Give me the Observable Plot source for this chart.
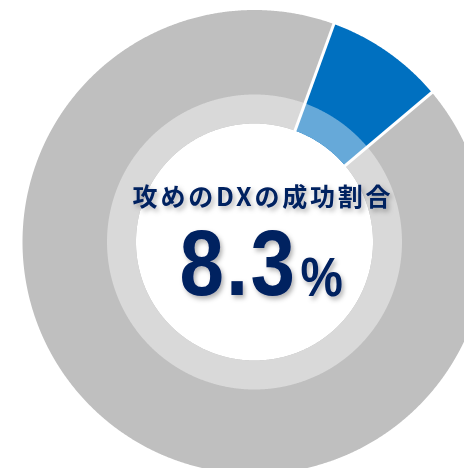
<!DOCTYPE html>
<html><head><meta charset="utf-8">
<script src="https://cdn.jsdelivr.net/npm/d3@7"></script>
<script src="https://cdn.jsdelivr.net/npm/@observablehq/plot@0.6"></script>
<style>html,body{margin:0;padding:0;background:#fff;overflow:hidden}</style>
</head><body><div id="chart"></div>
<script>
// ---- data ----
const categories = ["成功", "その他"];
const shares = [8.3, 91.7];
const outerColors = ["#0070C0", "#BFBFBF"];
const innerColors = ["#66A9D9", "#D9D9D9"];
const titleText = "攻めのDXの成功割合";
const valueText = "8.3";
const unitText = "%";

// ---- layout ----
const W = 464, H = 468, CX = 254, CY = 241.5, R = 232;
const rMid = 147.5 / R, rIn = 118.5 / R;
const startDeg = 20;
const px = (p) => (p - CX) / R;       // pixel x -> data x
const py = (p) => (CY - p) / R;       // pixel y -> data y

const total = d3.sum(shares);
const slices = [];
let acc = startDeg;
categories.forEach((c, i) => {
  const a0 = acc, a1 = acc + shares[i] / total * 360;
  slices.push({c, i, a0, a1});
  acc = a1;
});

function arcPoly(key, a0, a1, r0, r1) {
  const pts = [];
  const n = Math.max(2, Math.ceil((a1 - a0) / 0.25));
  for (let k = 0; k <= n; k++) {
    const a = (a0 + (a1 - a0) * k / n) * Math.PI / 180;
    pts.push({key, x: r1 * Math.sin(a), y: r1 * Math.cos(a)});
  }
  for (let k = n; k >= 0; k--) {
    const a = (a0 + (a1 - a0) * k / n) * Math.PI / 180;
    pts.push({key, x: r0 * Math.sin(a), y: r0 * Math.cos(a)});
  }
  return pts;
}

const outerPts = slices.flatMap(s => arcPoly("outer-" + s.c, s.a0, s.a1, rIn, 1));
const innerPts = slices.flatMap(s => arcPoly("inner-" + s.c, s.a0, s.a1, rIn, rMid));
const seps = slices.map(s => {
  const a = s.a0 * Math.PI / 180;
  return {x1: (rIn - 0.01) * Math.sin(a), y1: (rIn - 0.01) * Math.cos(a),
          x2: 1.01 * Math.sin(a), y2: 1.01 * Math.cos(a)};
});

const colorDomain = [...categories.map(c => "outer-" + c), ...categories.map(c => "inner-" + c)];
const colorRange = [...outerColors, ...innerColors];
const navy = "#002060";

const chart = Plot.plot({
  width: W, height: H, margin: 0,
  x: {domain: [px(0), px(W)], axis: null},
  y: {domain: [py(H), py(0)], axis: null},
  color: {domain: colorDomain, range: colorRange},
  marks: [
    Plot.line(outerPts, {x: "x", y: "y", z: "key", fill: "key", stroke: "none"}),
    Plot.line(innerPts, {x: "x", y: "y", z: "key", fill: "key", stroke: "none"}),
    Plot.link(seps, {x1: "x1", y1: "y1", x2: "x2", y2: "y2", stroke: "#fff", strokeWidth: 3}),
    Plot.text([titleText], {x: px(262.5), y: py(197), text: d => d, textAnchor: "middle", lineAnchor: "middle",
      fontSize: 25, fontWeight: "bold", fill: navy, fontFamily: "'Noto Sans CJK JP', sans-serif"}),
    Plot.text([valueText], {x: px(179), y: py(294), text: d => d, textAnchor: "start", lineAnchor: "bottom",
      fontSize: 93, fontWeight: "bold", fill: navy, fontFamily: "'Liberation Sans', Arial, sans-serif"}),
    Plot.text([unitText], {x: px(300), y: py(295), text: d => d, textAnchor: "start", lineAnchor: "bottom",
      fontSize: 56, fontWeight: "bold", fill: navy, fontFamily: "'Liberation Sans', Arial, sans-serif"})
  ]
});

document.getElementById("chart").appendChild(chart);

// post-process: shadows, letter spacing, condensed digits
const svg = d3.select(chart);
const defs = svg.insert("defs", ":first-child");
const f = defs.append("filter").attr("id", "tshadow").attr("x", "-20%").attr("y", "-20%").attr("width", "150%").attr("height", "150%");
f.append("feDropShadow").attr("dx", 2.5).attr("dy", 3).attr("stdDeviation", 2.5).attr("flood-color", "#000").attr("flood-opacity", 0.3);

svg.selectAll("text").each(function() {
  const t = d3.select(this);
  const s = this.textContent;
  t.attr("filter", "url(#tshadow)");
  const tr = t.attr("transform") || "";
  if (s === titleText) {
    t.attr("letter-spacing", "2.8px");
  } else if (s === valueText) {
    t.attr("letter-spacing", "2.5px");
    t.attr("transform", tr + " scale(0.86,1)");
  } else if (s === unitText) {
    t.attr("transform", tr + " scale(0.85,1)");
  }
});
</script>
</body></html>
